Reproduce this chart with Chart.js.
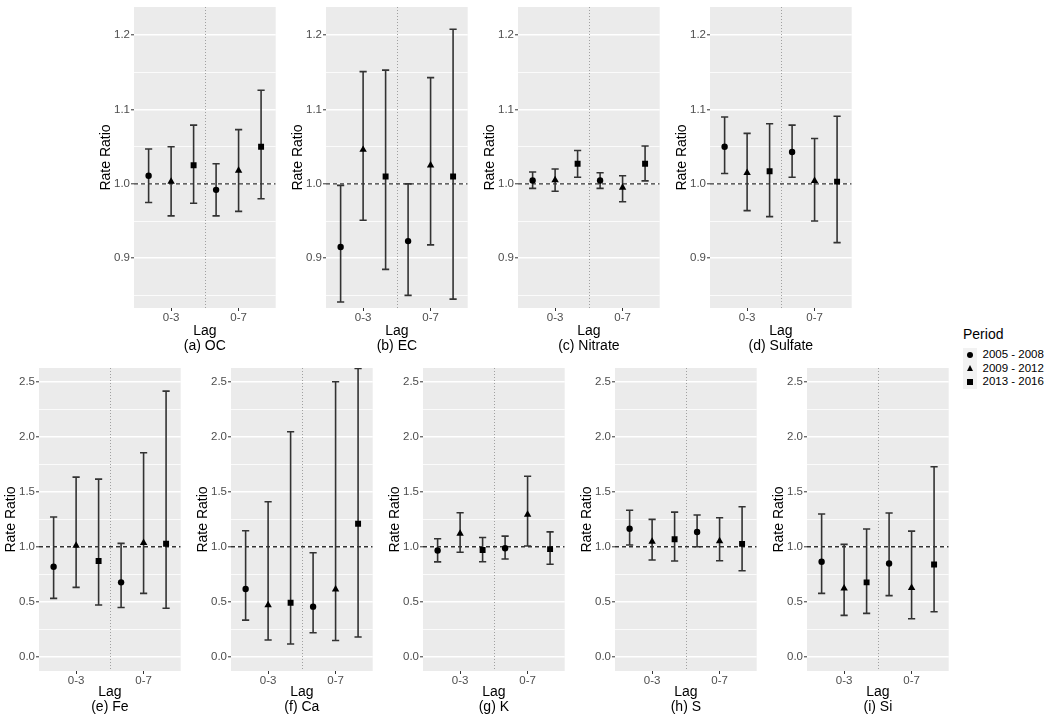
<!DOCTYPE html>
<html>
<head>
<meta charset="utf-8">
<script src="https://cdn.jsdelivr.net/npm/chart.js@4.4.1/dist/chart.umd.min.js"></script>
<style>
  body { margin: 0; background: #fff; width: 1050px; height: 722px; position: relative; overflow: hidden;
         font-family: "Liberation Sans", Arial, sans-serif; }
  canvas { position: absolute; }
  #legend { position: absolute; left: 963px; top: 326px; color: #000; }
  #legend .ltitle { font-size: 14px; line-height: 16px; height: 22px; }
  #legend .row { height: 13.5px; display: flex; align-items: center; }
  #legend .key { width: 13.5px; height: 13.5px; background: #f2f2f2; position: relative; }
  #legend .key i { position: absolute; left: 50%; top: 50%; transform: translate(-50%, -50%); display: block; }
  #legend .txt { font-size: 11.5px; line-height: 13.5px; margin-left: 6px; }
  .sym-circle { width: 6px; height: 6px; border-radius: 50%; background: #000; }
  .sym-triangle { width: 0; height: 0; border-left: 3.8px solid transparent; border-right: 3.8px solid transparent; border-bottom: 6.5px solid #000; }
  .sym-rect { width: 6px; height: 6px; background: #000; }
</style>
</head>
<body>
<div id="legend"></div>
<script>
// ---- data ----
const lags = ['0-3', '0-7'];
const periods = ['2005 - 2008', '2009 - 2012', '2013 - 2016'];

const topTicks = [0.9, 1.0, 1.1, 1.2];
const topRange = [0.833, 1.238];
const bottomTicks = [0.0, 0.5, 1.0, 1.5, 2.0, 2.5];
const bottomRange = [-0.13, 2.625];

// order of every array: lag 0-3 (2005, 2009, 2013), lag 0-7 (2005, 2009, 2013)
const ocEst = [1.011, 1.003, 1.025, 0.992, 1.018, 1.050];
const ocLo  = [0.975, 0.957, 0.974, 0.957, 0.963, 0.980];
const ocHi  = [1.047, 1.050, 1.079, 1.027, 1.073, 1.126];

const ecEst = [0.915, 1.046, 1.010, 0.923, 1.025, 1.010];
const ecLo  = [0.841, 0.951, 0.885, 0.850, 0.918, 0.845];
const ecHi  = [0.998, 1.151, 1.153, 1.000, 1.143, 1.208];

const nitEst = [1.0045, 1.005, 1.027, 1.0045, 0.995, 1.027];
const nitLo  = [0.994, 0.990, 1.009, 0.994, 0.976, 1.004];
const nitHi  = [1.016, 1.020, 1.045, 1.015, 1.011, 1.051];

const sulEst = [1.050, 1.015, 1.017, 1.043, 1.004, 1.003];
const sulLo  = [1.014, 0.964, 0.956, 1.009, 0.950, 0.921];
const sulHi  = [1.090, 1.068, 1.081, 1.079, 1.061, 1.091];

const feEst = [0.818, 1.010, 0.870, 0.676, 1.036, 1.027];
const feLo  = [0.530, 0.630, 0.470, 0.448, 0.576, 0.440];
const feHi  = [1.270, 1.633, 1.615, 1.030, 1.855, 2.415];

const caEst = [0.615, 0.470, 0.490, 0.455, 0.612, 1.209];
const caLo  = [0.333, 0.152, 0.115, 0.218, 0.148, 0.179];
const caHi  = [1.145, 1.409, 2.045, 0.945, 2.500, 2.620];

const kEst = [0.966, 1.120, 0.970, 0.986, 1.292, 0.978];
const kLo  = [0.862, 0.950, 0.864, 0.888, 1.006, 0.840];
const kHi  = [1.073, 1.309, 1.084, 1.096, 1.641, 1.135];

const sEst = [1.164, 1.047, 1.068, 1.134, 1.052, 1.026];
const sLo  = [1.016, 0.879, 0.870, 1.000, 0.873, 0.782];
const sHi  = [1.331, 1.249, 1.315, 1.288, 1.264, 1.364];

const siEst = [0.864, 0.621, 0.676, 0.848, 0.627, 0.839];
const siLo  = [0.576, 0.376, 0.394, 0.555, 0.345, 0.409];
const siHi  = [1.297, 1.021, 1.161, 1.306, 1.142, 1.727];

const panels = [
  { title: '(a) OC',      est: ocEst,  lo: ocLo,  hi: ocHi,  row: 0, col: 0 },
  { title: '(b) EC',      est: ecEst,  lo: ecLo,  hi: ecHi,  row: 0, col: 1 },
  { title: '(c) Nitrate', est: nitEst, lo: nitLo, hi: nitHi, row: 0, col: 2 },
  { title: '(d) Sulfate', est: sulEst, lo: sulLo, hi: sulHi, row: 0, col: 3 },
  { title: '(e) Fe',      est: feEst,  lo: feLo,  hi: feHi,  row: 1, col: 0 },
  { title: '(f) Ca',      est: caEst,  lo: caLo,  hi: caHi,  row: 1, col: 1 },
  { title: '(g) K',       est: kEst,   lo: kLo,   hi: kHi,   row: 1, col: 2 },
  { title: '(h) S',       est: sEst,   lo: sLo,   hi: sHi,   row: 1, col: 3 },
  { title: '(i) Si',      est: siEst,  lo: siLo,  hi: siHi,  row: 1, col: 4 },
];

// ---- styling ----
const shapes = ['circle', 'triangle', 'rect'];
const shapeRadius = [3.2, 4.3, 4.2];
const dodge = 1 / 3;
const PANEL_W = 142, AXIS_W = 38, AXIS_H = 48;
const rows = [
  { left: 134, canvasTop: 0,   padTop: 7, panelH: 301, titlePad: 2.5, ticks: topTicks,    range: topRange },
  { left: 39,  canvasTop: 360, padTop: 8, panelH: 303, titlePad: 4.5, ticks: bottomTicks, range: bottomRange },
];

Chart.defaults.font.family = '"Liberation Sans", Arial, sans-serif';

const panelDeco = {
  id: 'panelDeco',
  beforeDraw(chart) {
    const { ctx, chartArea: a } = chart;
    ctx.save();
    ctx.fillStyle = '#ebebeb';
    ctx.fillRect(a.left, a.top, a.width, a.height);
    ctx.restore();
  },
  beforeDatasetsDraw(chart) {
    const { ctx, chartArea: a, scales: { x, y } } = chart;
    ctx.save();
    ctx.beginPath();
    ctx.rect(a.left, a.top, a.width, a.height);
    ctx.clip();

    // dotted divider between the two lags
    const xm = Math.round(x.getPixelForValue(1.5)) + 0.5;
    ctx.strokeStyle = '#a0a0a0';
    ctx.lineWidth = 1;
    ctx.setLineDash([1, 2]);
    ctx.beginPath(); ctx.moveTo(xm, a.top); ctx.lineTo(xm, a.bottom); ctx.stroke();

    // dashed reference at 1
    const y1 = y.getPixelForValue(1);
    ctx.strokeStyle = '#333';
    ctx.lineWidth = 1.4;
    ctx.setLineDash([4, 3]);
    ctx.beginPath(); ctx.moveTo(a.left, y1); ctx.lineTo(a.right, y1); ctx.stroke();

    // error bars
    ctx.setLineDash([]);
    ctx.strokeStyle = '#333';
    ctx.lineWidth = 1.6;
    chart.data.datasets.forEach(ds => ds.data.forEach(d => {
      const px = x.getPixelForValue(d.x);
      const yl = y.getPixelForValue(d.lo), yh = y.getPixelForValue(d.hi);
      ctx.beginPath();
      ctx.moveTo(px, yl); ctx.lineTo(px, yh);
      ctx.moveTo(px - 3.6, yl); ctx.lineTo(px + 3.6, yl);
      ctx.moveTo(px - 3.6, yh); ctx.lineTo(px + 3.6, yh);
      ctx.stroke();
    }));
    ctx.restore();
  }
};

function yTickList(majors, range) {
  const step = majors[1] - majors[0];
  const list = majors.map(v => ({ value: v }));
  for (let i = -1; i < majors.length; i++) {
    const m = majors[0] + (i + 0.5) * step;
    if (m > range[0] && m < range[1]) list.push({ value: m, minor: true });
  }
  return list.sort((p, q) => p.value - q.value);
}

panels.forEach(p => {
  const r = rows[p.row];
  const canvas = document.createElement('canvas');
  const panelLeft = r.left + 192 * p.col;
  canvas.width = AXIS_W + PANEL_W + 4;
  canvas.height = r.padTop + r.panelH + AXIS_H;
  canvas.style.left = (panelLeft - AXIS_W) + 'px';
  canvas.style.top = r.canvasTop + 'px';
  document.body.appendChild(canvas);

  const datasets = periods.map((name, k) => ({
    label: name,
    data: lags.map((lag, g) => ({
      x: g + 1 + (k - 1) * dodge,
      y: p.est[g * 3 + k],
      lo: p.lo[g * 3 + k],
      hi: p.hi[g * 3 + k]
    })),
    pointStyle: shapes[k],
    pointRadius: shapeRadius[k],
    backgroundColor: '#000',
    borderColor: '#000',
    borderWidth: 0
  }));

  new Chart(canvas, {
    type: 'scatter',
    data: { datasets },
    options: {
      responsive: false,
      animation: false,
      layout: { padding: { top: r.padTop, right: 4, bottom: 0, left: 0 } },
      plugins: { legend: { display: false }, tooltip: { enabled: false } },
      scales: {
        x: {
          type: 'linear', min: 0.45, max: 2.55, bounds: 'data',
          afterBuildTicks: s => { s.ticks = lags.map((l, i) => ({ value: i + 1 })); },
          afterFit: s => { s.height = AXIS_H; },
          border: { display: false },
          grid: { drawOnChartArea: false, drawTicks: true, tickLength: 3, tickColor: '#333', tickWidth: 1 },
          ticks: { callback: (v, i) => lags[i], color: '#4d4d4d', font: { size: 11.5, lineHeight: 1 },
                   padding: 1, autoSkip: false, maxRotation: 0 },
          title: { display: true, text: ['Lag', p.title], color: '#000',
                   font: { size: 14, lineHeight: 1.07 }, padding: { top: 0, bottom: r.titlePad } }
        },
        y: {
          type: 'linear', min: r.range[0], max: r.range[1], bounds: 'data',
          afterBuildTicks: s => { s.ticks = yTickList(r.ticks, r.range); },
          afterFit: s => { s.width = AXIS_W; },
          border: { display: false },
          grid: {
            color: '#ffffff',
            lineWidth: c => (c.tick && c.tick.minor) ? 0.8 : 1.6,
            tickColor: c => (c.tick && c.tick.minor) ? 'rgba(0,0,0,0)' : '#333',
            tickLength: 3, tickWidth: 1
          },
          ticks: { callback: (v, i, t) => t[i].minor ? '' : v.toFixed(1), color: '#4d4d4d',
                   font: { size: 11.5, lineHeight: 1 }, padding: 1, autoSkip: false },
          title: { display: true, text: 'Rate Ratio', color: '#000',
                   font: { size: 14 }, padding: { top: 1.6, bottom: 0 } }
        }
      }
    },
    plugins: [panelDeco]
  });
});

// legend
const legend = document.getElementById('legend');
legend.innerHTML = '<div class="ltitle">Period</div>' + periods.map((name, k) =>
  '<div class="row"><span class="key"><i class="sym-' + shapes[k] + '"></i></span><span class="txt">' + name + '</span></div>'
).join('');
</script>
</body>
</html>
